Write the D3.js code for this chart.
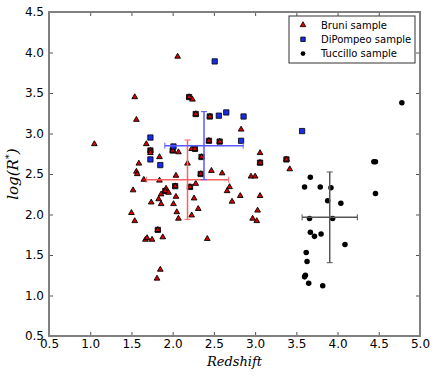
<!DOCTYPE html>
<html>
<head>
<meta charset="utf-8">
<script src="https://cdn.jsdelivr.net/npm/d3@7"></script>
<style>
  body { margin: 0; background: #fff; }
  svg { display: block; font-family: "DejaVu Sans", sans-serif; }
</style>
</head>
<body>
<svg id="chart" width="436" height="376"></svg>
<script>
// Bruni sample (redshift, log R*)
var bruni = [
  [1.05, 2.87], [2.06, 3.95], [1.54, 3.45], [1.56, 3.17], [2.20, 3.45], [2.24, 3.42],
  [2.28, 3.24], [2.45, 3.21], [2.83, 3.05], [2.44, 2.91], [2.57, 2.90], [2.00, 2.79],
  [2.07, 2.77], [2.23, 2.81], [2.27, 2.81], [2.35, 2.71], [2.18, 2.63], [2.34, 2.50],
  [2.47, 2.54], [2.60, 2.51], [2.04, 2.48], [1.84, 2.71], [3.06, 2.76], [3.06, 2.64],
  [2.95, 2.47], [3.00, 2.47], [1.68, 2.87], [1.73, 2.79], [1.73, 2.76], [1.59, 2.63],
  [1.56, 2.53], [1.57, 2.50], [1.65, 2.43], [1.84, 2.42], [2.03, 2.35], [2.21, 2.34],
  [2.28, 2.38], [1.52, 2.30], [1.92, 2.32], [1.91, 2.29], [1.95, 2.27], [1.86, 2.25],
  [2.04, 2.22], [1.83, 2.19], [1.74, 2.15], [1.86, 2.13], [2.01, 2.13], [2.26, 2.20],
  [2.31, 2.07], [2.05, 2.03], [2.23, 1.99], [2.07, 1.95], [1.50, 2.02], [1.54, 1.92],
  [1.82, 1.81], [1.67, 1.69], [1.69, 1.71], [1.75, 1.69], [1.88, 1.72], [2.42, 1.70],
  [1.85, 1.32], [1.81, 1.21], [2.69, 2.34], [2.66, 2.29], [2.82, 2.23], [3.06, 2.23],
  [2.72, 2.16], [3.03, 2.05], [2.97, 1.95], [3.02, 1.92], [3.38, 2.68], [3.42, 2.56]
];

// DiPompeo objects that are also in the Bruni sample
var dipompeoShared = [
  [2.20, 3.45], [2.28, 3.24], [2.45, 3.21], [2.44, 2.91], [2.57, 2.90], [2.00, 2.79],
  [2.27, 2.81], [2.35, 2.71], [2.34, 2.50], [3.06, 2.64], [1.73, 2.79], [2.03, 2.35],
  [2.21, 2.34], [1.91, 2.29], [1.82, 1.81], [3.38, 2.68]
];

// DiPompeo only
var dipompeo = [
  [2.51, 3.89], [2.56, 3.22], [2.65, 3.26], [2.86, 3.21], [2.83, 2.91], [2.01, 2.84],
  [1.73, 2.95], [1.73, 2.68], [1.85, 2.61], [3.57, 3.03]
];

var tuccillo = [
  [4.44, 2.65], [4.46, 2.65], [3.67, 2.46], [3.60, 2.34], [3.79, 2.34], [3.92, 2.33],
  [3.88, 2.17], [4.04, 2.14], [4.46, 2.26], [3.66, 1.95], [3.94, 1.95], [3.67, 1.78],
  [3.72, 1.73], [3.80, 1.76], [4.09, 1.63], [3.62, 1.53], [3.63, 1.42], [3.61, 1.25],
  [3.60, 1.23], [3.65, 1.15], [3.82, 1.12], [4.78, 3.38]
];

// mean +/- spread per sample: [x, y, xerr, yerr]
var errBruni = [2.18, 2.43, 0.50, 0.49];
var errDiPompeo = [2.38, 2.85, 0.475, 0.42];
var errTuccillo = [3.905, 1.965, 0.335, 0.56];

var xTicks = [0.5, 1.0, 1.5, 2.0, 2.5, 3.0, 3.5, 4.0, 4.5, 5.0];
var yTicks = [0.5, 1.0, 1.5, 2.0, 2.5, 3.0, 3.5, 4.0, 4.5];
var legendLabels = ["Bruni sample", "DiPompeo sample", "Tuccillo sample"];

var margin = {left: 49, right: 16, top: 12, bottom: 40};
var width = 436, height = 376;

var svg = d3.select("svg#chart");
var x = d3.scaleLinear().domain([0.5, 5.0]).range([margin.left, width - margin.right]);
var y = d3.scaleLinear().domain([0.5, 4.5]).range([height - margin.bottom, margin.top]);

var spine = "#808080";

// ticks on every side, pointing inward
var tickLen = 4;
svg.append("g")
    .attr("transform", `translate(0,${y(0.5)})`)
    .call(d3.axisBottom(x).tickValues(xTicks).tickSizeInner(-tickLen).tickSizeOuter(0).tickPadding(3).tickFormat(d3.format(".1f")))
    .call(g => g.select(".domain").remove());
svg.append("g")
    .attr("transform", `translate(0,${y(4.5)})`)
    .call(d3.axisTop(x).tickValues(xTicks).tickSizeInner(-tickLen).tickSizeOuter(0).tickFormat(""))
    .call(g => g.select(".domain").remove());
svg.append("g")
    .attr("transform", `translate(${x(0.5)},0)`)
    .call(d3.axisLeft(y).tickValues(yTicks).tickSizeInner(-tickLen).tickSizeOuter(0).tickPadding(5).tickFormat(d3.format(".1f")))
    .call(g => g.select(".domain").remove());
svg.append("g")
    .attr("transform", `translate(${x(5.0)},0)`)
    .call(d3.axisRight(y).tickValues(yTicks).tickSizeInner(-tickLen).tickSizeOuter(0).tickFormat(""))
    .call(g => g.select(".domain").remove());

svg.selectAll(".tick line").attr("stroke", "#555");
svg.selectAll(".tick text")
    .attr("font-size", 12)
    .attr("font-family", "DejaVu Sans, sans-serif")
    .attr("fill", "#000");

// frame
svg.append("rect")
    .attr("x", x(0.5)).attr("y", y(4.5))
    .attr("width", x(5.0) - x(0.5)).attr("height", y(0.5) - y(4.5))
    .attr("fill", "none").attr("stroke", spine).attr("stroke-width", 2);

var tri = d3.symbol().type(d3.symbolTriangle).size(14);
var sq = d3.symbol().type(d3.symbolSquare).size(28);
var circ = d3.symbol().type(d3.symbolCircle).size(24);

var marks = svg.append("g");

marks.selectAll("path.shared")
    .data(dipompeoShared).enter().append("path")
    .attr("class", "shared")
    .attr("d", sq)
    .attr("transform", d => `translate(${x(d[0])},${y(d[1])})`)
    .attr("fill", "#1c1c44").attr("stroke", "#000").attr("stroke-width", 0.8);

marks.selectAll("path.bruni")
    .data(bruni).enter().append("path")
    .attr("class", "bruni")
    .attr("d", tri)
    .attr("transform", d => `translate(${x(d[0])},${y(d[1])})`)
    .attr("fill", "#d40000").attr("stroke", "#000").attr("stroke-width", 0.9);

marks.selectAll("path.dip")
    .data(dipompeo).enter().append("path")
    .attr("class", "dip")
    .attr("d", sq)
    .attr("transform", d => `translate(${x(d[0])},${y(d[1])})`)
    .attr("fill", "#1a2ae6").attr("stroke", "#000").attr("stroke-width", 0.8);

marks.selectAll("path.tuc")
    .data(tuccillo).enter().append("path")
    .attr("class", "tuc")
    .attr("d", circ)
    .attr("transform", d => `translate(${x(d[0])},${y(d[1])})`)
    .attr("fill", "#000");

// error crosses
function errCross(e, color) {
    var g = svg.append("g").attr("stroke", color).attr("stroke-width", 1.5).attr("fill", "none");
    var cap = 3;
    g.append("line").attr("x1", x(e[0] - e[2])).attr("x2", x(e[0] + e[2])).attr("y1", y(e[1])).attr("y2", y(e[1]));
    g.append("line").attr("x1", x(e[0])).attr("x2", x(e[0])).attr("y1", y(e[1] - e[3])).attr("y2", y(e[1] + e[3]));
    [e[0] - e[2], e[0] + e[2]].forEach(v => {
        g.append("line").attr("x1", x(v)).attr("x2", x(v)).attr("y1", y(e[1]) - cap).attr("y2", y(e[1]) + cap).attr("stroke-width", 1);
    });
    [e[1] - e[3], e[1] + e[3]].forEach(v => {
        g.append("line").attr("y1", y(v)).attr("y2", y(v)).attr("x1", x(e[0]) - cap).attr("x2", x(e[0]) + cap).attr("stroke-width", 1);
    });
}
errCross(errBruni, "#ff6060");
errCross(errDiPompeo, "#5a5aff");
errCross(errTuccillo, "#555555");

// legend
var lg = svg.append("g").attr("transform", "translate(289,16)");
lg.append("rect").attr("width", 126).attr("height", 47)
    .attr("fill", "#fff").attr("stroke", "#333").attr("stroke-width", 1);
var legendSyms = [
    {sym: tri, fill: "#d40000", stroke: "#000"},
    {sym: sq, fill: "#1a2ae6", stroke: "#000"},
    {sym: circ, fill: "#000", stroke: "none"}
];
legendLabels.forEach(function (lab, i) {
    var row = lg.append("g").attr("transform", `translate(0,${9 + i * 14.3})`);
    row.append("path").attr("d", legendSyms[i].sym.size([14, 20, 18][i]))
        .attr("transform", "translate(14,0)")
        .attr("fill", legendSyms[i].fill).attr("stroke", legendSyms[i].stroke).attr("stroke-width", 0.8);
    row.append("text").attr("x", 32).attr("y", 3.6)
        .attr("font-size", 10).attr("fill", "#000").text(lab);
});

// axis labels
svg.append("text")
    .attr("x", (x(0.5) + x(5.0)) / 2).attr("y", 366)
    .attr("text-anchor", "middle")
    .attr("font-family", "DejaVu Serif, serif").attr("font-style", "italic")
    .attr("font-size", 13).text("Redshift");

var yl = svg.append("text")
    .attr("transform", `translate(18,${(y(0.5) + y(4.5)) / 2}) rotate(-90)`)
    .attr("text-anchor", "middle")
    .attr("font-family", "DejaVu Serif, serif").attr("font-style", "italic")
    .attr("font-size", 15);
yl.append("tspan").text("log(R");
yl.append("tspan").attr("dy", -6).attr("font-size", 10).text("*");
yl.append("tspan").attr("dy", 6).text(")");
</script>
</body>
</html>
